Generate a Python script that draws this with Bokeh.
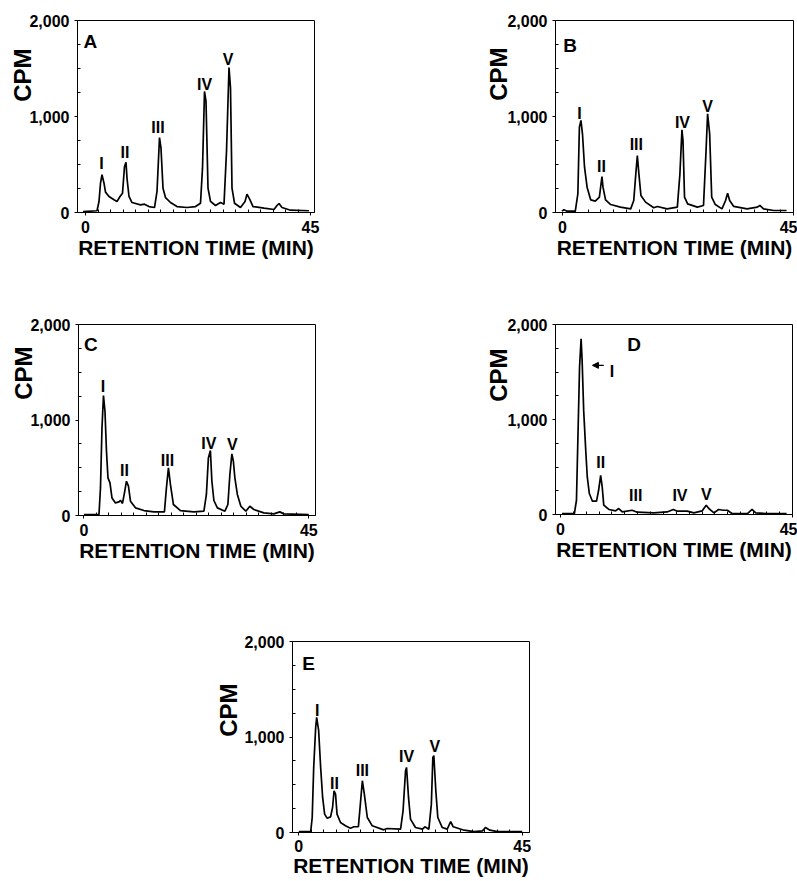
import math
from bokeh.plotting import figure
from bokeh.models import (Range1d, FixedTicker, NumeralTickFormatter, Label, Arrow, Title,
                          NormalHead, ColumnDataSource, Spacer)
from bokeh.layouts import row, column
from bokeh.core.properties import value
from bokeh.embed import file_html
from bokeh.resources import INLINE

# ---------------- data ----------------
x_tick_labels = [0, 45]
y_tick_values = [0, 1000, 2000]
peak_names = ["I", "II", "III", "IV", "V"]

a_time = [-0.5, 2.3, 2.7, 3.0, 3.3, 3.7, 4.0, 4.7, 5.7, 6.3, 6.9, 7.4, 7.8, 8.1, 8.3, 8.7, 9.3, 11.0, 11.8, 12.7,
          13.8, 14.3, 14.8, 15.1, 15.5, 16.0, 17.0, 18.3, 20.3, 22.0, 23.0, 23.4, 23.8, 24.1, 24.5, 25.0, 26.0, 27.0,
          27.7, 28.2, 28.7, 29.0, 29.3, 29.8, 31.0, 31.9, 32.3, 32.9, 33.5, 35.7, 37.7, 38.3, 38.7, 39.3, 41.0, 44.7]
a_cpm = [10, 18, 115, 305, 393, 305, 212, 167, 132, 115, 167, 201, 479, 524, 357, 167, 104, 80, 87, 62,
         52, 219, 781, 670, 253, 156, 104, 62, 52, 62, 97, 462, 1261, 1157, 253, 115, 73, 104,
         87, 636, 1511, 1295, 253, 97, 52, 115, 191, 132, 62, 45, 31, 73, 94, 52, 24, 18]
a_label_time = [3.2, 7.9, 14.5, 23.8, 28.5]
a_label_cpm = [566, 680, 941, 1393, 1650]

b_time = [-0.1, 0.3, 0.9, 2.5, 3.0, 3.3, 3.6, 3.9, 4.3, 4.8, 5.5, 6.4, 7.2, 7.7, 7.9, 8.4, 9.4, 11.3, 13.3, 13.9,
          14.3, 14.6, 14.9, 15.3, 16.2, 17.8, 18.5, 20.4, 22.4, 22.9, 23.3, 23.5, 23.8, 24.4, 26.3, 27.5, 28.0,
          28.3, 28.7, 29.1, 29.8, 31.1, 31.8, 32.2, 32.6, 33.4, 36.0, 38.0, 38.5, 39.2, 41.2, 43.7]
b_cpm = [14, 28, 14, 14, 195, 889, 959, 820, 472, 264, 132, 118, 160, 375, 264, 132, 83, 56, 38, 125,
         403, 594, 403, 177, 108, 49, 63, 38, 56, 403, 862, 750, 160, 90, 56, 73, 646,
         1028, 820, 160, 83, 38, 125, 201, 125, 63, 38, 56, 73, 38, 21, 21]
b_label_time = [3.3, 7.6, 14.4, 23.4, 28.3]
b_label_cpm = [1091, 535, 768, 993, 1167]

c_time = [0, 3.0, 3.3, 3.6, 3.9, 4.2, 4.5, 4.8, 5.2, 5.6, 6.3, 7.0, 7.3, 7.7, 8.1, 8.5, 8.9, 9.3, 10.3, 12.0,
          14.0, 16.1, 16.5, 16.9, 17.3, 17.9, 19.3, 22.0, 24.0, 24.5, 24.9, 25.3, 25.6, 26.0, 26.7, 28.2, 28.8,
          29.2, 29.6, 29.9, 30.2, 30.7, 31.4, 32.4, 33.2, 34.0, 36.0, 38.0, 39.2, 40.0, 45.0]
c_cpm = [10, 10, 289, 917, 1256, 1092, 673, 394, 341, 184, 132, 142, 160, 126, 237, 359, 307, 150, 80, 52,
         38, 38, 289, 498, 325, 115, 52, 38, 45, 220, 603, 681, 359, 157, 80, 45, 115,
         429, 645, 568, 394, 220, 97, 45, 97, 63, 27, 17, 38, 17, 10]
c_label_time = [3.8, 8.1, 16.7, 25.0, 29.7]
c_label_cpm = [1406, 527, 631, 812, 806]

d_time = [0.3, 2.7, 3.1, 3.4, 3.7, 4.0, 4.2, 4.5, 4.9, 5.2, 5.6, 6.2, 7.0, 7.4, 7.8, 8.1, 8.4, 9.4, 10.7, 11.3,
          12.0, 13.9, 14.9, 18.1, 20.7, 21.9, 22.7, 24.6, 25.9, 27.5, 28.3, 28.8, 29.8, 30.7, 31.6, 32.4, 33.3,
          36.3, 37.2, 37.9, 40.1, 43.9]
d_cpm = [10, 10, 150, 851, 1551, 1850, 1622, 1096, 676, 395, 221, 140, 140, 255, 413, 290, 98, 53, 38, 63,
         27, 45, 24, 17, 27, 53, 35, 35, 17, 38, 98, 63, 17, 53, 45, 45, 10,
         10, 53, 17, 10, 10]
d_label_time = [10.0, 7.8, 14.6, 23.2, 28.3]
d_label_cpm = [1570, 605, 263, 263, 273]
d_arrow_time = [8.4, 6.2]

e_time = [0, 2.4, 2.7, 3.0, 3.4, 3.6, 4.0, 4.4, 4.8, 5.2, 5.7, 6.4, 6.8, 7.1, 7.4, 7.7, 8.4, 9.4, 10.4, 11.1,
          12.0, 12.4, 12.8, 13.2, 13.8, 14.8, 17.1, 17.8, 20.5, 21.0, 21.5, 21.7, 22.1, 22.5, 23.5, 24.9, 25.4,
          26.2, 26.7, 27.0, 27.2, 27.6, 28.0, 28.9, 29.9, 30.6, 31.1, 33.3, 35.3, 37.0, 37.6, 38.5, 40.0, 45.0]
e_cpm = [10, 10, 157, 682, 1101, 1206, 1066, 682, 367, 192, 150, 164, 262, 437, 402, 192, 105, 70, 45, 60,
         60, 297, 542, 402, 157, 70, 28, 42, 35, 227, 647, 682, 367, 140, 52, 35, 60,
         35, 297, 787, 805, 437, 157, 52, 35, 115, 60, 24, 10, 17, 52, 24, 10, 10]
e_label_time = [3.7, 7.2, 12.8, 21.7, 27.4]
e_label_cpm = [1340, 570, 706, 857, 962]

# panel letter: (left x in minutes, cap-top in CPM)
letters = {"A": (-0.4, 1928), "B": (0.14, 1879), "C": (0.0, 1930), "D": (12.95, 1937), "E": (0.68, 1912)}

# ---------------- layout (pixels) ----------------
# cpm: (centre of "CPM" left of frame, top end of "CPM" below frame top)
geo = {
    "A": dict(left=77, top=19, right=164, bottom=95, W=237, H=192, x0=-1.6, x1=45.8, cpm=(52, 28),
              tstand=5, lstand=0),
    "B": dict(left=77, top=20, right=4, bottom=94, W=238, H=192, x0=-1.36, x1=45.05, cpm=(54.5, 27),
              tstand=5, lstand=0),
    "C": dict(left=78, top=17, right=163, bottom=112, W=237, H=191, x0=-1.10, x1=46.34, cpm=(52.5, 22),
              tstand=5, lstand=0),
    "D": dict(left=77, top=18, right=5, bottom=112, W=237, H=190, x0=-0.97, x1=45.05, cpm=(54.5, 24),
              tstand=5, lstand=0),
    "E": dict(left=82, top=15, right=20, bottom=48, W=237, H=191, x0=-1.27, x1=46.47, cpm=(61, 42),
              tstand=4, lstand=-1),
}

FONT = "Liberation Sans"
Y0, Y1 = 0, 2000
YSTAND = 5
CPM_SIZE = 24


def make_panel(key, t, c, ltimes, lcpm, names):
    g = geo[key]
    p = figure(frame_width=g["W"], frame_height=g["H"],
               x_range=Range1d(g["x0"], g["x1"]), y_range=Range1d(Y0, Y1),
               output_backend="svg", toolbar_location=None,
               min_border_left=g["left"], min_border_right=g["right"],
               min_border_top=g["top"], min_border_bottom=g["bottom"])
    ppy = (Y1 - Y0) / g["H"]                 # cpm per pixel

    p.xgrid.visible = False
    p.ygrid.visible = False
    p.outline_line_color = "black"
    p.outline_line_width = 1
    p.outline_line_alpha = 1
    p.background_fill_color = "white"
    p.border_fill_color = "white"

    for ax in (p.xaxis[0], p.yaxis[0]):
        ax.axis_line_color = "black"
        ax.axis_line_width = 1
        ax.major_tick_line_color = "black"
        ax.minor_tick_line_color = "black"
        ax.major_tick_in = 0
        ax.major_tick_out = 3
        ax.minor_tick_in = 3
        ax.minor_tick_out = 0
        ax.major_label_text_font = FONT
        ax.major_label_text_font_style = "bold"
        ax.major_label_text_font_size = "16px"
        ax.major_label_text_color = "black"
    p.xaxis.ticker = FixedTicker(ticks=x_tick_labels, minor_ticks=[2.5 * i for i in range(1, 18)])
    p.yaxis.ticker = FixedTicker(ticks=y_tick_values, minor_ticks=[250, 500, 750, 1250, 1500, 1750])
    p.yaxis.formatter = NumeralTickFormatter(format="0,0")
    p.xaxis.major_label_standoff = g["tstand"]
    p.yaxis.major_label_standoff = YSTAND

    # x axis title
    p.xaxis.axis_label = "RETENTION TIME (MIN)"
    p.xaxis.axis_label_text_font = FONT
    p.xaxis.axis_label_text_font_style = "bold"
    p.xaxis.axis_label_text_font_size = "21px"
    p.xaxis.axis_label_text_color = "black"
    p.xaxis.axis_label_standoff = g["lstand"]

    # y axis title as a left-side title placed next to the tick labels
    dx, off = g["cpm"]
    axis_w = 3 + YSTAND + 40
    size = 2 * (dx - axis_w)
    stand = int(round(size - 2 - 1.117 * CPM_SIZE))
    p.add_layout(Title(text="CPM", align="right", vertical_align="middle", offset=off, standoff=stand,
                       text_font=FONT, text_font_style="bold", text_font_size=f"{CPM_SIZE}px",
                       text_color="black"), "left")

    p.line(t, c, line_color="black", line_width=1.7)

    # peak labels (centres given; 16px bold caps ~11.5px tall)
    src = ColumnDataSource(dict(x=ltimes, y=[v - 5.7 * ppy for v in lcpm], text=names))
    p.text(x="x", y="y", text="text", source=src, text_font=value(FONT), text_font_style="bold",
           text_font_size="16px", text_align="center", text_baseline="alphabetic", text_color="black")

    # panel letter
    lx, ly = letters[key]
    p.add_layout(Label(x=lx, y=ly - 13.6 * ppy, text=key, text_font=FONT, text_font_style="bold",
                       text_font_size="19px", text_align="left", text_baseline="alphabetic",
                       text_color="black"))
    return p


pA = make_panel("A", a_time, a_cpm, a_label_time, a_label_cpm, peak_names)
pB = make_panel("B", b_time, b_cpm, b_label_time, b_label_cpm, peak_names)
pC = make_panel("C", c_time, c_cpm, c_label_time, c_label_cpm, peak_names)
pD = make_panel("D", d_time, d_cpm, d_label_time, d_label_cpm, peak_names)
pE = make_panel("E", e_time, e_cpm, e_label_time, e_label_cpm, peak_names)

pD.add_layout(Arrow(end=NormalHead(size=6, fill_color="black", line_color="black"),
                    x_start=d_arrow_time[0], y_start=d_label_cpm[0],
                    x_end=d_arrow_time[1], y_end=d_label_cpm[0],
                    line_color="black", line_width=1.2))

layout = column(
    row(pA, pB),
    row(pC, pD),
    row(Spacer(width=210, height=254), pE),
)

open("out.html", "w").write(file_html(layout, INLINE))
